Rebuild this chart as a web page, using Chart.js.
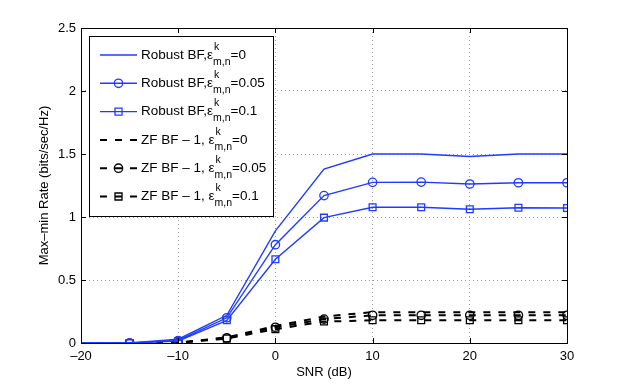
<!DOCTYPE html>
<html>
<head>
<meta charset="utf-8">
<script src="https://cdn.jsdelivr.net/npm/chart.js@4"></script>
<style>
  html, body { margin: 0; padding: 0; background: #fff; }
  #wrap { width: 623px; height: 387px; }
</style>
</head>
<body>
<div id="wrap"><canvas id="mainChart" width="623" height="387"></canvas></div>
<script>
// --- DATA ---
const snr = [-20, -15, -10, -5, 0, 5, 10, 15, 20, 25, 30];
const robust0   = [0, 0, 0.03, 0.22, 0.89, 1.38, 1.50, 1.50, 1.48, 1.50, 1.50];
const robust005 = [0, 0, 0.02, 0.20, 0.78, 1.17, 1.275, 1.277, 1.262, 1.272, 1.272];
const robust01  = [0, 0, 0.015, 0.18, 0.665, 0.995, 1.077, 1.077, 1.061, 1.074, 1.071];
const zf0   = [0, 0, 0.003, 0.045, 0.135, 0.21, 0.245, 0.245, 0.245, 0.245, 0.245];
const zf005 = [0, 0, 0.002, 0.04, 0.125, 0.19, 0.22, 0.22, 0.22, 0.22, 0.22];
const zf01  = [0, 0, 0.001, 0.035, 0.11, 0.17, 0.18, 0.18, 0.18, 0.18, 0.18];
const xTicks = [-20, -10, 0, 10, 20, 30];
const yTicks = [0, 0.5, 1, 1.5, 2, 2.5];
const legendPrefix = ['Robust BF,', 'Robust BF,', 'Robust BF,', 'ZF BF \u2013 1, ', 'ZF BF \u2013 1, ', 'ZF BF \u2013 1, '];
const legendSuffix = ['=0', '=0.05', '=0.1', '=0', '=0.05', '=0.1'];

const BLUE = 'rgb(30,60,255)';
const FONT = '"Liberation Sans", Arial, sans-serif';

function pts(ys) { return snr.map((x, i) => ({ x, y: ys[i] })); }

function series(label, ys, color, style, dashed) {
    const r = style ? (style === 'rect' ? 4.8 : 4.2) : 0;
    return {
        label, data: pts(ys),
        borderColor: color, borderWidth: dashed ? 2 : 1.4,
        borderDash: dashed ? [7, 8] : [],
        pointStyle: style || 'circle',
        // no marker on the left axis edge
        pointRadius: snr.map((x, i) => i === 0 ? 0 : r),
        legendRadius: r,
        pointBorderColor: color, pointBorderWidth: 1.3,
        pointBackgroundColor: 'rgba(0,0,0,0)',
        tension: 0, fill: false
    };
}

// inward ticks, frame and legend box
const frame = {
    id: 'frame',
    afterDraw(chart) {
        const { ctx, chartArea: a, scales } = chart;
        ctx.save();
        ctx.strokeStyle = '#000';
        ctx.lineWidth = 1;
        ctx.strokeRect(a.left + 0.5, a.top + 0.5, a.right - a.left, a.bottom - a.top);
        xTicks.forEach(v => {
            const x = Math.round(scales.x.getPixelForValue(v)) + 0.5;
            ctx.beginPath();
            ctx.moveTo(x, a.bottom); ctx.lineTo(x, a.bottom - 5);
            ctx.moveTo(x, a.top); ctx.lineTo(x, a.top + 5);
            ctx.stroke();
        });
        yTicks.forEach(v => {
            const y = Math.round(scales.y.getPixelForValue(v)) + 0.5;
            ctx.beginPath();
            ctx.moveTo(a.left, y); ctx.lineTo(a.left + 5, y);
            ctx.moveTo(a.right, y); ctx.lineTo(a.right - 5, y);
            ctx.stroke();
        });

        // legend
        const lx = 89, ly = 36, lw = 184, lh = 180;
        ctx.fillStyle = '#fff';
        ctx.fillRect(lx, ly, lw, lh);
        ctx.strokeRect(lx + 0.5, ly + 0.5, lw, lh);
        chart.data.datasets.forEach((ds, i) => {
            const cy = 55 + i * 28.3;
            ctx.strokeStyle = ds.borderColor;
            ctx.lineWidth = ds.borderWidth;
            ctx.setLineDash(ds.borderDash.length ? [7, 8] : []);
            ctx.beginPath();
            ctx.moveTo(100, cy); ctx.lineTo(137, cy);
            ctx.stroke();
            ctx.setLineDash([]);
            if (ds.legendRadius > 0) {
                ctx.lineWidth = 1.3;
                ctx.beginPath();
                if (ds.pointStyle === 'rect') {
                    ctx.rect(118.5 - 3.5, cy - 3.5, 7, 7);
                } else {
                    ctx.arc(118.5, cy, 4.2, 0, Math.PI * 2);
                }
                ctx.stroke();
            }
            ctx.fillStyle = '#000';
            ctx.textBaseline = 'middle';
            ctx.font = '13.5px ' + FONT;
            let x = 141;
            ctx.fillText(legendPrefix[i], x, cy);
            x += ctx.measureText(legendPrefix[i]).width;
            ctx.fillText('\u03b5', x, cy);
            x += ctx.measureText('\u03b5').width;
            ctx.font = '10.5px ' + FONT;
            ctx.fillText('k', x + 1, cy - 8);
            ctx.fillText('m,n', x, cy + 7);
            x += ctx.measureText('m,n').width;
            ctx.font = '13.5px ' + FONT;
            ctx.fillText(legendSuffix[i], x, cy);
        });
        ctx.restore();
    }
};

new Chart(document.getElementById('mainChart').getContext('2d'), {
    type: 'line',
    data: {
        datasets: [
            series('Robust BF 0', robust0, BLUE, null, false),
            series('Robust BF 0.05', robust005, BLUE, 'circle', false),
            series('Robust BF 0.1', robust01, BLUE, 'rect', false),
            series('ZF BF 0', zf0, '#000', null, true),
            series('ZF BF 0.05', zf005, '#000', 'circle', true),
            series('ZF BF 0.1', zf01, '#000', 'rect', true)
        ]
    },
    options: {
        responsive: false, animation: false,
        layout: { padding: { left: 0, top: 28, right: 56, bottom: 0 } },
        plugins: { legend: { display: false }, tooltip: { enabled: false } },
        scales: {
            x: {
                type: 'linear', min: -20, max: 30,
                afterBuildTicks: s => { s.ticks = xTicks.map(v => ({ value: v })); },
                afterFit: s => { s.height = 44; },
                grid: { color: '#9a9a9a', drawTicks: false },
                border: { display: false, dash: [1, 3] },
                ticks: { color: '#000', font: { family: FONT, size: 13 }, padding: 6, maxRotation: 0,
                         callback: v => v < 0 ? '\u2013' + Math.abs(v) : String(v) },
                title: { display: true, text: 'SNR (dB)', color: '#000', font: { family: FONT, size: 13 }, padding: { top: 0, bottom: 7 } }
            },
            y: {
                min: 0, max: 2.5,
                afterBuildTicks: s => { s.ticks = yTicks.map(v => ({ value: v })); },
                afterFit: s => { s.width = 81; },
                grid: { color: '#9a9a9a', drawTicks: false },
                border: { display: false, dash: [1, 3] },
                ticks: { color: '#000', font: { family: FONT, size: 13 }, padding: 5, callback: v => String(v) },
                title: { display: true, text: 'Max\u2013min Rate (bits/sec/Hz)', color: '#000', font: { family: FONT, size: 13 }, padding: { top: 37, bottom: 0 } }
            }
        }
    },
    plugins: [frame]
});
</script>
</body>
</html>
